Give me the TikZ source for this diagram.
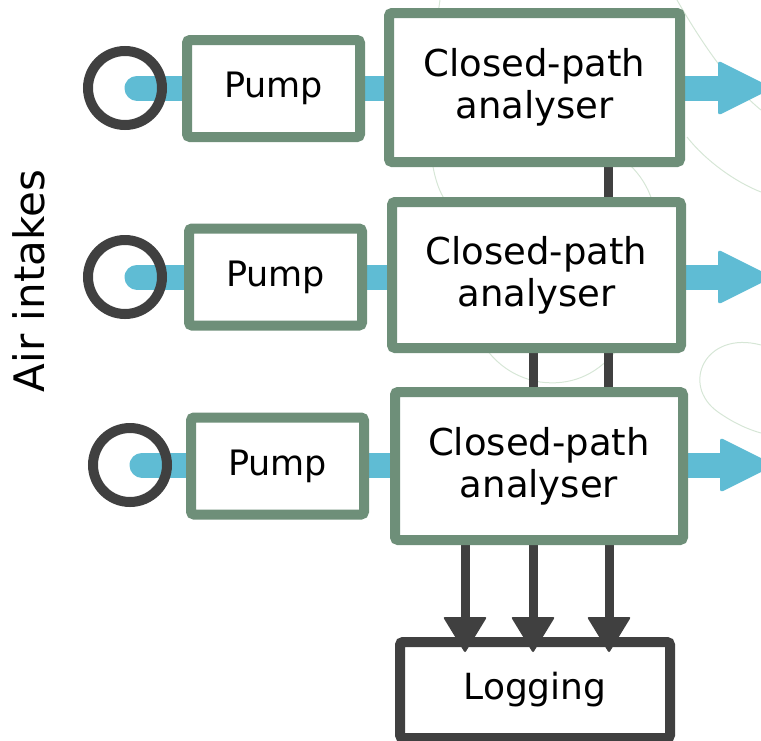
\documentclass[tikz,border=0pt]{standalone}
\usepackage{fontspec}
\setmainfont{DejaVu Sans}
\usetikzlibrary{calc}
\definecolor{boxgreen}{HTML}{6E8F79}
\definecolor{flowblue}{HTML}{5FBCD4}
\definecolor{darkline}{HTML}{404040}
\definecolor{faint}{HTML}{D6E6D6}
\pgfdeclarelayer{background}
\pgfsetlayers{background,main}
\begin{document}
\begin{tikzpicture}[x=1pt,y=-1pt,
  greenbox/.style={draw=boxgreen, line width=10pt, fill=white, rounded corners=3pt, inner sep=0pt, align=center},
  pumpbox/.style={greenbox, minimum width=173pt, minimum height=97pt, font=\fontsize{35}{42}\selectfont},
  anbox/.style={greenbox, minimum width=290pt, minimum height=148pt, font=\fontsize{37}{42}\selectfont},
  logbox/.style={draw=darkline, line width=10pt, fill=white, rounded corners=3pt, inner sep=0pt, minimum width=270pt, minimum height=96pt, font=\fontsize{36}{42}\selectfont},
  intake/.style={circle, draw=darkline, line width=10pt, minimum size=74pt, inner sep=0pt},
  flowin/.style={draw=flowblue, line width=25pt, line cap=round},
  flowpipe/.style={draw=flowblue, line width=25pt},
  flowhead/.style={fill=flowblue, rounded corners=3pt},
  ctrl/.style={draw=darkline, line width=9pt},
  ctrlhead/.style={fill=darkline, rounded corners=2pt},
  bgarc/.style={draw=faint, line width=1pt}
]
\useasboundingbox (0,0) rectangle (761,740);

% coordinates for connector ends
\coordinate (v1) at (608,0);
\coordinate (v2) at (533,0);
\coordinate (d1) at (465,617);
\coordinate (d2) at (533,617);
\coordinate (d3) at (609,617);
\coordinate (h1) at (718,88);
\coordinate (o1) at (773,88);
\coordinate (h2) at (718,277);
\coordinate (o2) at (773,277);
\coordinate (h3) at (720,465);
\coordinate (o3) at (775,465);

% intakes
\node[intake] (c1) at (125,88) {};
\node[intake] (c2) at (125,277) {};
\node[intake] (c3) at (130,465) {};

% pumps
\node[pumpbox] (p1) at (273.5,88.5) {Pump};
\node[pumpbox] (p2) at (275.5,277) {Pump};
\node[pumpbox] (p3) at (277.5,466) {Pump};

% analysers
\node[anbox, minimum width=291pt, minimum height=149pt] (a1) at (534.5,87.5) {Closed-path\\analyser};
\node[anbox, minimum width=289pt, minimum height=146pt] (a2) at (536.5,275) {Closed-path\\analyser};
\node[anbox, minimum width=288pt, minimum height=148pt] (a3) at (539,466) {Closed-path\\analyser};

% logging
\node[logbox] (lg) at (535,690) {Logging};

% side label
\node[rotate=90, font=\fontsize{42}{48}\selectfont, inner sep=0pt] (air) at (29,281) {Air intakes};

\begin{pgfonlayer}{background}
% faint background arcs
\draw[bgarc] (440,0) .. controls (425,100) and (425,170) .. (445,200)
  .. controls (455,290) and (470,370) .. (540,382)
  .. controls (600,390) and (640,340) .. (655,250)
  .. controls (660,210) and (650,185) .. (630,165);
\draw[bgarc] (677,0) .. controls (700,40) and (730,85) .. (761,110);
\draw[bgarc] (687,137) .. controls (705,160) and (735,182) .. (761,192);
\draw[bgarc] (761,345) .. controls (705,330) and (680,385) .. (718,412) .. controls (735,424) and (750,430) .. (761,433);

% links between analysers
\draw[ctrl] (a1.south -| v1) -- (a2.north -| v1);
\draw[ctrl] (a2.south -| v2) -- (a3.north -| v2);
\draw[ctrl] (a2.south -| v1) -- (a3.north -| v1);
% shafts to logging
\draw[ctrl] (a3.south -| d1) -- ($(d1)+(0,10)$);
\draw[ctrl] (a3.south -| d2) -- ($(d2)+(0,10)$);
\draw[ctrl] (a3.south -| d3) -- ($(d3)+(0,10)$);

% blue flow lines
\draw[flowin] ([xshift=12pt]c1.center) -- (p1.west |- c1);
\draw[flowin] ([xshift=12pt]c2.center) -- (p2.west |- c2);
\draw[flowin] ([xshift=12pt]c3.center) -- (p3.west |- c3);
\draw[flowpipe] (p1.east |- c1) -- (a1.west |- c1);
\draw[flowpipe] (p2.east |- c2) -- (a2.west |- c2);
\draw[flowpipe] (p3.east |- c3) -- (a3.west |- c3);

% output shafts
\draw[flowpipe] (a1.east |- h1) -- ([xshift=4pt]h1);
\draw[flowpipe] (a2.east |- h2) -- ([xshift=4pt]h2);
\draw[flowpipe] (a3.east |- h3) -- ([xshift=4pt]h3);
\end{pgfonlayer}

% output arrow heads
\fill[flowhead] (h1) ++(0,-27.5) -- (o1) -- ++(-55,27.5) -- cycle;
\fill[flowhead] (h2) ++(0,-27.5) -- (o2) -- ++(-55,27.5) -- cycle;
\fill[flowhead] (h3) ++(0,-27.5) -- (o3) -- ++(-55,27.5) -- cycle;

% logging arrow heads
\fill[ctrlhead] (d1) ++(-22,0) -- ++(22,36) -- ++(22,-36) -- cycle;
\fill[ctrlhead] (d2) ++(-22,0) -- ++(22,36) -- ++(22,-36) -- cycle;
\fill[ctrlhead] (d3) ++(-22,0) -- ++(22,36) -- ++(22,-36) -- cycle;
\end{tikzpicture}
\end{document}
